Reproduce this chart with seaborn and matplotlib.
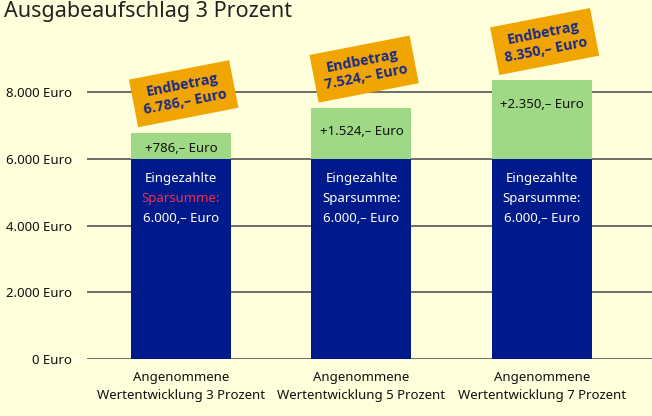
import matplotlib
matplotlib.use("Agg")
import matplotlib.pyplot as plt
import seaborn as sns
import pandas as pd

# Daten
kategorien = ["Angenommene\nWertentwicklung 3 Prozent",
              "Angenommene\nWertentwicklung 5 Prozent",
              "Angenommene\nWertentwicklung 7 Prozent"]
eingezahlt = [6000, 6000, 6000]
zuwachs = [786, 1524, 2350]
zuwachs_text = ["+786,– Euro", "+1.524,– Euro", "+2.350,– Euro"]
endbetrag_text = ["6.786,– Euro", "7.524,– Euro", "8.350,– Euro"]
y_ticks = [0, 2000, 4000, 6000, 8000]
y_labels = ["0 Euro", "2.000 Euro", "4.000 Euro", "6.000 Euro", "8.000 Euro"]

bg = "#FFFFDC"
blau = "#001A8C"
gruen = "#9FD985"
orange = "#F0A500"
rot = "#F0304E"

sns.set_style("white")
plt.rcParams["font.family"] = ["Noto Sans", "DejaVu Sans"]

df = pd.DataFrame({"kat": kategorien, "basis": eingezahlt,
                   "gesamt": [a + b for a, b in zip(eingezahlt, zuwachs)]})

fig = plt.figure(figsize=(6.52, 4.16), dpi=100, facecolor=bg)
ax = fig.add_axes([87 / 652, 57 / 416, 565 / 652, 359 / 416], facecolor=bg)

sns.barplot(data=df, x="kat", y="gesamt", color=gruen, saturation=1, width=0.554, linewidth=0, ax=ax)
sns.barplot(data=df, x="kat", y="basis", color=blau, saturation=1, width=0.554, linewidth=0, ax=ax)

ax.set_xlim(-0.52, 2.61)
ax.set_ylim(0, 10760)
ax.set_yticks(y_ticks)
ax.set_yticklabels(y_labels, fontsize=9.5, color="#111111")
ax.set_xticks(range(3))
ax.set_xticklabels(kategorien, fontsize=9.5, color="#111111", linespacing=1.45)
ax.tick_params(length=0, pad=11)
ax.tick_params(axis="x", pad=9)
ax.set_xlabel("")
ax.set_ylabel("")
ax.grid(axis="y", color="#555555", linewidth=1.2)
ax.set_axisbelow(True)
sns.despine(ax=ax, left=True, bottom=True, top=True, right=True)

for i in range(3):
    top = eingezahlt[i] + zuwachs[i]
    # Zuwachs im gruenen Teil
    ty = max(top - 720, (eingezahlt[i] + top) / 2 - 80)
    ax.text(i, ty, zuwachs_text[i], ha="center", va="center", fontsize=9.5, color="#111111")
    # Eingezahlte Summe
    for dy, txt in zip([-14, -28.5, -43], ["Eingezahlte", "Sparsumme:", "6.000,– Euro"]):
        farbe = rot if (i == 0 and txt == "Sparsumme:") else "white"
        ax.annotate(txt, (i, eingezahlt[i]), xytext=(0, dy), textcoords="offset points",
                    ha="center", va="center", fontsize=9.5, color=farbe)
    # Endbetrag-Kasten
    ax.annotate("Endbetrag\n" + endbetrag_text[i], (i, top), xytext=(2, 28), textcoords="offset points",
                ha="center", va="center", fontsize=10.3, fontweight="bold", color="#1A2A8C",
                family=["Open Sans", "DejaVu Sans"],
                rotation=11, rotation_mode="anchor", linespacing=1.25,
                bbox=dict(boxstyle="square,pad=0.62", facecolor=orange, edgecolor="none"))

fig.text(4 / 652, 1 - 17 / 416, "Ausgabeaufschlag 3 Prozent", fontsize=15.5, color="#222222",
         ha="left", va="baseline")

fig.savefig("out.png", dpi=100, facecolor=bg)
